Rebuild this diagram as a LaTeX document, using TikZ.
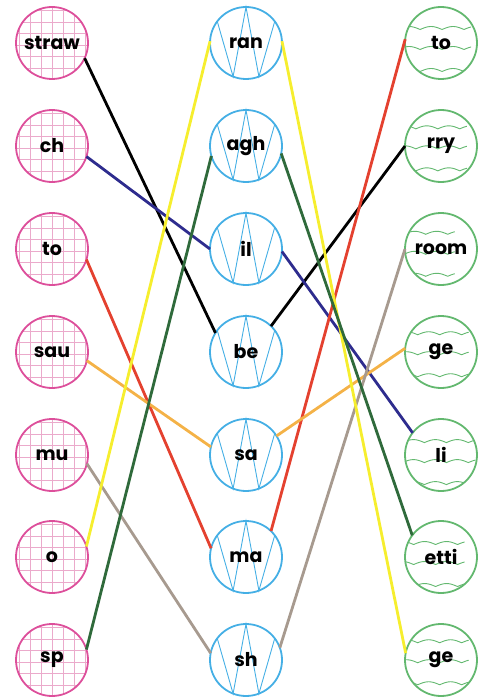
\documentclass[tikz,border=0pt]{standalone}
\usepackage{fontspec}
\setmainfont{Poppins}
\usetikzlibrary{calc,backgrounds}
\definecolor{wk-pink}{HTML}{DD4F9B}
\definecolor{wk-grid}{HTML}{EBAACB}
\definecolor{wk-blue}{HTML}{45AFE5}
\definecolor{wk-green}{HTML}{63B86F}
\definecolor{ln-navy}{HTML}{2E2C8E}
\definecolor{ln-red}{HTML}{E4412F}
\definecolor{ln-orange}{HTML}{F4B247}
\definecolor{ln-taupe}{HTML}{A79A8F}
\definecolor{ln-yellow}{HTML}{F6EE2E}
\definecolor{ln-green}{HTML}{2F6A3B}

\begin{document}
\begin{tikzpicture}[x=1pt, y=-1pt,
    word/.style={circle, minimum size=72pt, inner sep=0pt, outer sep=0pt,
        line width=1.8pt, font=\fontsize{19}{22}\selectfont\bfseries},
    gridword/.style={word, draw=wk-pink, path picture={
        \foreach \k in {-33,-22,-11,0,11,22,33}
          \draw[wk-grid, line width=0.9pt] ([xshift=\k pt]path picture bounding box.north) -- ([xshift=\k pt]path picture bounding box.south);
        \foreach \k in {-36.5,-25,-13.5,-2,9.5,21,32.5}
          \draw[wk-grid, line width=0.9pt] ([yshift=\k pt]path picture bounding box.west) -- ([yshift=\k pt]path picture bounding box.east);
        }},
    zigword/.style={word, draw=wk-blue},
    zig/.style={wk-blue, line width=0.9pt},
    waveword/.style={word, draw=wk-green, path picture={
        \foreach \dy in {-20,0,22}
          \draw[wk-green, line width=0.9pt, shift={(path picture bounding box.center)}]
            plot[domain=-40:40, samples=81] (\x, {\dy - 3*abs(sin((\x+11)*8.2))});
        }},
    link/.style={line width=2.8pt},
]
  \useasboundingbox (0,0) rectangle (486,698);

  % left column
  \node[gridword] (straw) at (52,43) {straw};
  \node[gridword] (ch) at (52,146) {ch};
  \node[gridword] (lto) at (52,249) {to};
  \node[gridword] (sau) at (52,352) {sau};
  \node[gridword] (mu) at (52,455) {mu};
  \node[gridword] (o) at (52,557) {o};
  \node[gridword] (sp) at (52,660) {sp};

  % middle column
  \node[zigword] (ran) at (246,43) {ran};
  \node[zigword] (agh) at (246,146) {agh};
  \node[zigword] (il) at (246,249) {il};
  \node[zigword] (be) at (246,352) {be};
  \node[zigword] (sa) at (246,455) {sa};
  \node[zigword] (ma) at (246,557) {ma};
  \node[zigword] (sh) at (246,660) {sh};

  % zigzags behind the middle words
  \begin{scope}[on background layer]
    \foreach \n in {ran,agh,il,be,sa,ma,sh}
      \draw[zig] (\n.143) -- (\n.249) -- (\n.90) -- (\n.291) -- (\n.37);
  \end{scope}

  % right column
  \node[waveword] (rto) at (441,43) {to};
  \node[waveword] (rry) at (441,146) {rry};
  \node[waveword] (room) at (441,249) {room};
  \node[waveword] (ge) at (441,352) {ge};
  \node[waveword] (li) at (441,455) {li};
  \node[waveword] (etti) at (441,557) {etti};
  \node[waveword] (ge2) at (441,660) {ge};

  % matching lines
  \draw[link, black] (straw.-25) -- (be.148);
  \draw[link, black] (be.46) -- (rry.180);
  \draw[link, ln-navy] (ch.-17) -- (il.180);
  \draw[link, ln-navy] (il.-4) -- (li.142);
  \draw[link, ln-red] (lto.-17) -- (ma.166);
  \draw[link, ln-red] (ma.46) -- (rto.174);
  \draw[link, ln-orange] (sau.-14) -- (sa.167);
  \draw[link, ln-orange] (sa.32) -- (ge.174);
  \draw[link, ln-taupe] (mu.-14) -- (sh.169);
  \draw[link, ln-taupe] (sh.20) -- (room.180);
  \draw[link, ln-yellow] (o.17) -- (ran.177);
  \draw[link, ln-yellow] (ran.3) -- (ge2.169);
  \draw[link, ln-green] (sp.17) -- (agh.196);
  \draw[link, ln-green] (agh.-12) -- (etti.143);
\end{tikzpicture}
\end{document}
